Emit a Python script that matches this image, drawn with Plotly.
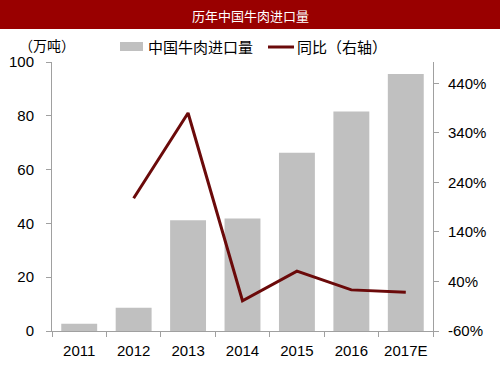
import plotly.graph_objects as go

years = ["2011", "2012", "2013", "2014", "2015", "2016", "2017E"]
imports = [2.7, 8.6, 41.2, 41.8, 66.3, 81.6, 95.5]
yoy = [None, 208, 380, 1, 61, 23, 18]
right_ticks = [-60, 40, 140, 240, 340, 440]
right_labels = [f"{v}%" for v in right_ticks]

PL, PR, PT, PB = 52, 433, 62, 331
W, H = 500, 375
pw, ph = PR - PL, PB - PT

def px_x(x):
    return (x - PL) / pw

def px_y(y):
    return (PB - y) / ph

BAR_C = "#c0c0c0"
LINE_C = "#6b0a0a"

fig = go.Figure()
fig.add_trace(go.Bar(x=years, y=imports, name="中国牛肉进口量",
                     marker=dict(color=BAR_C, line=dict(width=0)), width=0.66,
                     hoverinfo="skip"))
fig.add_trace(go.Scatter(x=years, y=yoy, name="同比（右轴）", yaxis="y2", mode="lines",
                         line=dict(color=LINE_C, width=3), hoverinfo="skip"))

axis_font = dict(family="Liberation Sans, Arial", size=15, color="#000")
fig.update_layout(
    width=W, height=H,
    margin=dict(l=PL, r=W - PR, t=PT, b=H - PB, pad=0),
    paper_bgcolor="white", plot_bgcolor="white",
    showlegend=False,
    xaxis=dict(type="category", showline=True, linecolor="#a0a0a0", linewidth=1,
               ticks="outside", tickson="boundaries", ticklen=5, tickcolor="#a0a0a0",
               tickfont=axis_font, showgrid=False, zeroline=False, automargin=False,
               ticklabelstandoff=6),
    yaxis=dict(range=[0, 100], dtick=20, showline=True, linecolor="#a0a0a0", linewidth=1,
               ticks="outside", ticklen=5, tickcolor="#a0a0a0", tickfont=axis_font,
               showgrid=False, zeroline=False, automargin=False, ticklabelstandoff=9),
    yaxis2=dict(range=[-60, 483], overlaying="y", side="right", tickvals=right_ticks,
                ticktext=right_labels, showline=True, linecolor="#a0a0a0", linewidth=1,
                ticks="outside", ticklen=5, tickcolor="#a0a0a0", tickfont=axis_font,
                showgrid=False, zeroline=False, automargin=False, ticklabelstandoff=6),
    bargap=0.34,
)

# title bar
fig.add_shape(type="rect", xref="paper", yref="paper",
              x0=px_x(0), x1=px_x(W), y0=px_y(29), y1=px_y(0),
              fillcolor="#990000", line=dict(width=0), layer="below")
fig.add_annotation(xref="paper", yref="paper", x=px_x(250), y=px_y(15),
                   text="历年中国牛肉进口量", showarrow=False,
                   font=dict(family="Noto Sans CJK SC", size=13, color="white"),
                   xanchor="center", yanchor="middle", borderpad=0)

cjk = dict(family="Noto Sans CJK SC", size=15, color="#000")
fig.add_annotation(xref="paper", yref="paper", x=px_x(18), y=px_y(45),
                   text="（万吨）", showarrow=False,
                   font=dict(family="Noto Sans CJK SC", size=14, color="#000"),
                   xanchor="left", yanchor="middle", borderpad=0)

# manual legend
fig.add_shape(type="rect", xref="paper", yref="paper",
              x0=px_x(120), x1=px_x(143), y0=px_y(51), y1=px_y(42),
              fillcolor=BAR_C, line=dict(width=0))
fig.add_annotation(xref="paper", yref="paper", x=px_x(147), y=px_y(46),
                   text="中国牛肉进口量", showarrow=False, font=cjk,
                   xanchor="left", yanchor="middle", borderpad=0)
fig.add_shape(type="line", xref="paper", yref="paper",
              x0=px_x(268), x1=px_x(294), y0=px_y(47), y1=px_y(47),
              line=dict(color=LINE_C, width=3))
fig.add_annotation(xref="paper", yref="paper", x=px_x(296), y=px_y(46),
                   text="同比（右轴）", showarrow=False, font=cjk,
                   xanchor="left", yanchor="middle", borderpad=0)

fig.write_html("out.html", config={"displayModeBar": False, "staticPlot": True},
               post_script="document.body.style.margin='0';")
